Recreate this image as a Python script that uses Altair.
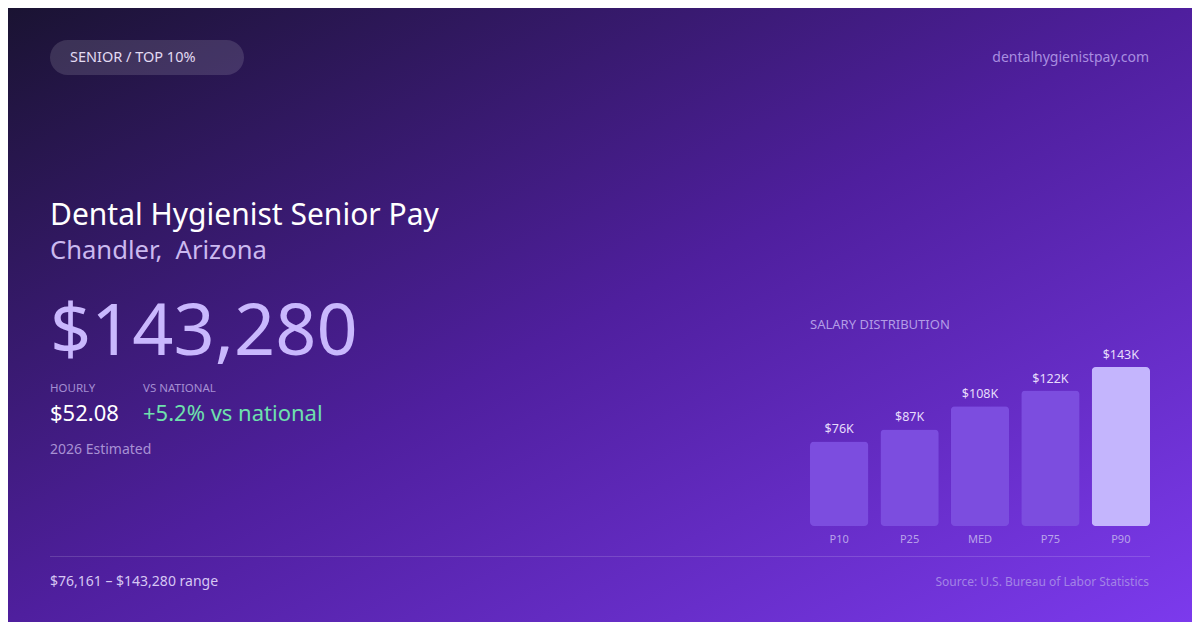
import altair as alt
import pandas as pd

# ---- data ----
percentiles = ["P10", "P25", "MED", "P75", "P90"]
salary_k = [76.161, 87, 108, 122, 143.28]
salary_labels = ["$76K", "$87K", "$108K", "$122K", "$143K"]

title_text = "Dental Hygienist Senior Pay"
location_text = "Chandler,\u00a0 Arizona"
headline_value = "$143,280"
hourly_value = "$52.08"
vs_national = "+5.2% vs national"
range_text = "$76,161 – $143,280 range"

FONT = "Noto Sans"
W, H = 1184, 614
OFF = 8  # page margin: reference coords -> chart coords


def P(v):
    return v - OFF


bars_df = pd.DataFrame({"pct": percentiles, "value": salary_k, "label": salary_labels})
one = pd.DataFrame({"k": [0]})

base = alt.Chart(one)

bg = base.mark_rect(
    color=alt.LinearGradient(
        gradient="linear",
        stops=[
            alt.GradientStop(color="#1a1332", offset=0),
            alt.GradientStop(color="#4f1f9e", offset=0.5),
            alt.GradientStop(color="#7c3aed", offset=1),
        ],
        x1=0, y1=0, x2=1, y2=1,
    )
).encode(x=alt.value(0), x2=alt.value(W), y=alt.value(0), y2=alt.value(H))

pill = base.mark_rect(color="#ffffff", opacity=0.13, cornerRadius=17.5).encode(
    x=alt.value(P(50)), x2=alt.value(P(244)), y=alt.value(P(40)), y2=alt.value(P(75))
)


def txt(text, x, y, size, color, align="left", baseline="alphabetic", weight="normal", opacity=1.0):
    return base.mark_text(
        text=text, font=FONT, fontSize=size, color=color, align=align,
        baseline=baseline, fontWeight=weight, opacity=opacity,
    ).encode(x=alt.value(P(x)), y=alt.value(P(y)))


texts = [
    txt("SENIOR / TOP 10%", 70, 58, 14.5, "#e2dbf3", baseline="middle"),
    txt("dentalhygienistpay.com", 1149, 58, 14, "#a98ee0", align="right", baseline="middle"),
    txt(title_text, 50, 225, 30, "#ffffff"),
    txt(location_text, 50, 259, 25.6, "#cbb9ef"),
    txt(headline_value, 50, 355, 72, "#c9b8fd"),
    txt("HOURLY", 50, 392, 11.5, "#a48ed2"),
    txt("VS NATIONAL", 143, 392, 11.5, "#a48ed2"),
    txt(hourly_value, 50, 421, 22, "#ffffff"),
    txt(vs_national, 143, 421, 22, "#6ee0ad"),
    txt("2026 Estimated", 50, 454, 14, "#a891d4"),
    txt("SALARY DISTRIBUTION", 810, 329, 13, "#b39ce6"),
    txt(range_text, 50, 586, 14, "#d6c7f3"),
    txt("Source: U.S. Bureau of Labor Statistics", 1149, 586, 12, "#a384e6", align="right"),
]

divider = base.mark_rule(color="#ffffff", opacity=0.15, strokeWidth=1).encode(
    x=alt.value(P(50)), x2=alt.value(P(1150)), y=alt.value(P(556.5))
)

xs = alt.Scale(domain=percentiles, range=[P(810), P(1150)], paddingInner=12 / 70, paddingOuter=0)
ys = alt.Scale(domain=[0, 143.28], range=[P(526), P(367)])

bar_base = alt.Chart(bars_df)

bars = bar_base.mark_bar(cornerRadius=4).encode(
    x=alt.X("pct:N", scale=xs, axis=None, sort=percentiles),
    y=alt.Y("value:Q", scale=ys, axis=None),
    color=alt.condition(alt.datum.pct == "P90", alt.value("#c4b5fd"), alt.value("#7c4ddf")),
)

bar_labels = bar_base.mark_text(
    font=FONT, fontSize=12.5, color="#e6dcfb", baseline="alphabetic", dy=-8
).encode(
    x=alt.X("pct:N", scale=xs, axis=None, sort=percentiles),
    y=alt.Y("value:Q", scale=ys, axis=None),
    text="label:N",
)

cat_labels = bar_base.mark_text(
    font=FONT, fontSize=11, color="#b9a3ea", baseline="alphabetic"
).encode(
    x=alt.X("pct:N", scale=xs, axis=None, sort=percentiles),
    y=alt.value(P(543)),
    text="pct:N",
)

chart = alt.layer(
    bg, pill, divider, *texts, bars, bar_labels, cat_labels
).properties(
    width=W, height=H, padding=0, autosize="none"
).configure_view(stroke=None).configure(background="#1a1332")

chart.save("out.html", embed_options={"renderer": "svg", "actions": False})
